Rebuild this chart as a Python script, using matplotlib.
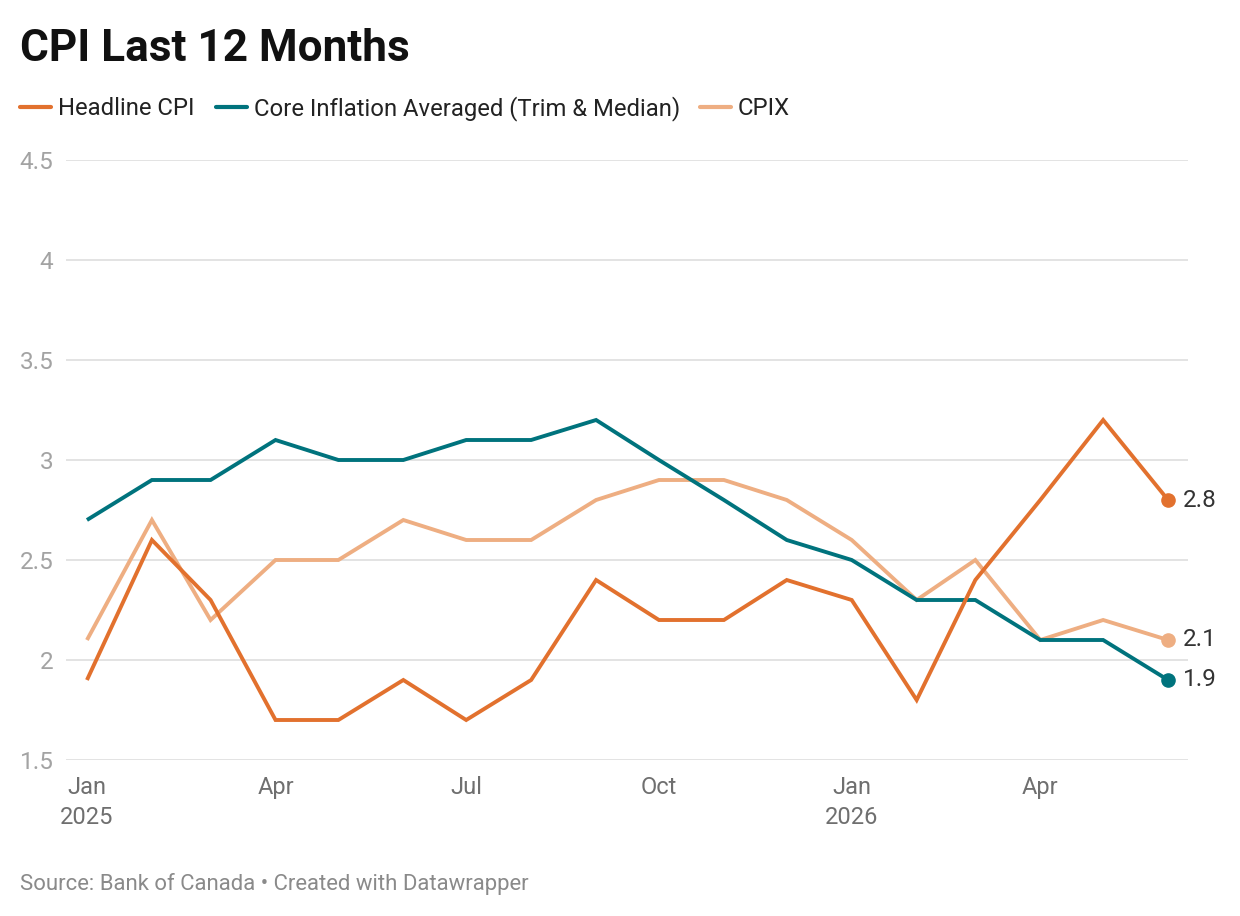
import matplotlib
matplotlib.use("Agg")
import matplotlib.pyplot as plt
import matplotlib.dates as mdates
from matplotlib.lines import Line2D
import datetime as dt

plt.rcParams['font.family'] = ['Roboto', 'DejaVu Sans']

months = ["2025-01", "2025-02", "2025-03", "2025-04", "2025-05", "2025-06",
          "2025-07", "2025-08", "2025-09", "2025-10", "2025-11", "2025-12",
          "2026-01", "2026-02", "2026-03", "2026-04", "2026-05", "2026-06"]
headline = [1.9, 2.6, 2.3, 1.7, 1.7, 1.9, 1.7, 1.9, 2.4, 2.2, 2.2, 2.4,
            2.3, 1.8, 2.4, 2.8, 3.2, 2.8]
core = [2.7, 2.9, 2.9, 3.1, 3.0, 3.0, 3.1, 3.1, 3.2, 3.0, 2.8, 2.6,
        2.5, 2.3, 2.3, 2.1, 2.1, 1.9]
cpix = [2.1, 2.7, 2.2, 2.5, 2.5, 2.7, 2.6, 2.6, 2.8, 2.9, 2.9, 2.8,
        2.6, 2.3, 2.5, 2.1, 2.2, 2.1]
series_names = ["Headline CPI", "Core Inflation Averaged (Trim & Median)", "CPIX"]
y_ticks = [1.5, 2, 2.5, 3, 3.5, 4, 4.5]
y_tick_labels = ["1.5", "2", "2.5", "3", "3.5", "4", "4.5"]
x_tick_months = ["2025-01", "2025-04", "2025-07", "2025-10", "2026-01", "2026-04"]
x_tick_labels = ["Jan\n2025", "Apr", "Jul", "Oct", "Jan\n2026", "Apr"]

colors = ["#e2712e", "#00737d", "#eeae82"]

dates = [dt.datetime.strptime(m, "%Y-%m") for m in months]
tick_dates = [dt.datetime.strptime(m, "%Y-%m") for m in x_tick_months]

W, H = 1240, 916
fig = plt.figure(figsize=(W / 100, H / 100), dpi=100)
ax = fig.add_axes([66 / W, 1 - 760 / H, (1188 - 66) / W, 600 / H])

order = [2, 1, 0]
data = [headline, core, cpix]
for i in order:
    ax.plot(dates, data[i], color=colors[i], lw=2.8, solid_joinstyle='miter',
            solid_capstyle='butt', zorder=3 + (2 - i))
    ax.plot(dates[-1], data[i][-1], 'o', color=colors[i], ms=9.5, zorder=6,
            clip_on=False)
    ax.annotate(f"{data[i][-1]:g}", (mdates.date2num(dates[-1]), data[i][-1]),
                xytext=(11, 0), textcoords='offset points', va='center',
                ha='left', fontsize=17.5, color='#333333',
                annotation_clip=False)

ax.set_ylim(1.5, 4.5)
x0 = mdates.date2num(dates[0]) - 10
x1 = mdates.date2num(dates[-1]) + 9.5
ax.set_xlim(x0, x1)

ax.set_yticks(y_ticks)
ax.set_yticklabels(y_tick_labels)
ax.set_xticks(tick_dates)
ax.set_xticklabels(x_tick_labels, linespacing=1.4)

ax.grid(axis='y', color='#e3e3e3', lw=1.4, zorder=1)
ax.grid(axis='x', visible=False)
for s in ax.spines.values():
    s.set_visible(False)
ax.tick_params(axis='y', length=0, pad=9, labelsize=17.5, labelcolor='#a3a3a3')
ax.tick_params(axis='x', length=0, pad=11.5, labelsize=17, labelcolor='#6f6f6f')
ax.set_axisbelow(True)
ax.patch.set_alpha(0)

# Title
fig.text(20 / W, 1 - 61 / H, "CPI Last 12 Months", fontsize=31.8, fontweight='bold',
         color='#111111', va='baseline', ha='left')

# Legend
leg_y = 1 - 107 / H
leg_lines = [(20, 51), (216, 247), (700, 731)]
leg_text_x = [58, 254, 738]
for i in range(3):
    fig.add_artist(Line2D([leg_lines[i][0] / W, leg_lines[i][1] / W], [leg_y, leg_y],
                          color=colors[i], lw=3, solid_capstyle='round'))
    fig.text(leg_text_x[i] / W, 1 - 115 / H, series_names[i], fontsize=17.2,
             color='#222222', va='baseline', ha='left')

# Source
fig.text(20 / W, 1 - 890 / H, "Source: Bank of Canada \u2022 Created with Datawrapper",
         fontsize=15.9, color='#8a8a8a', va='baseline', ha='left')

fig.savefig("out.png", dpi=100, facecolor='white')
